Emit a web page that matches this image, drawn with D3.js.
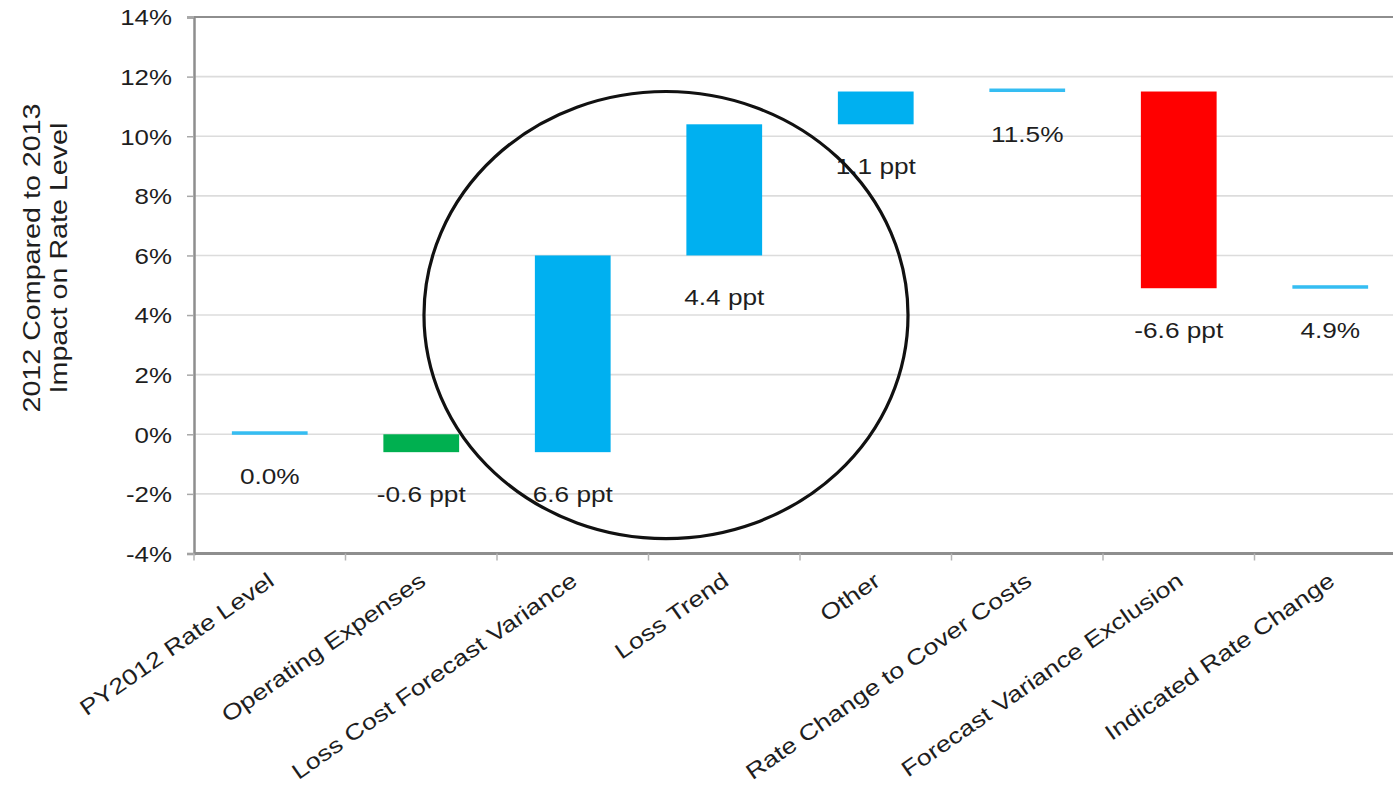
<!DOCTYPE html>
<html>
<head>
<meta charset="utf-8">
<script src="https://cdn.jsdelivr.net/npm/d3@7"></script>
<style>
  html, body { margin: 0; padding: 0; background: #fff; overflow: hidden; }
  text { font-family: "Liberation Sans", Arial, sans-serif; fill: #1e1e1e; }
</style>
</head>
<body>
<svg id="chart" width="1393" height="791"></svg>
<script>
// Waterfall: rate-level walk from PY2012 to the indicated change
const categories = [
  "PY2012 Rate Level",
  "Operating Expenses",
  "Loss Cost Forecast Variance",
  "Loss Trend",
  "Other",
  "Rate Change to Cover Costs",
  "Forecast Variance Exclusion",
  "Indicated Rate Change"
];
// Totals are levels (%), the rest are changes in percentage points
const values  = [0.0, -0.6, 6.6, 4.4, 1.1, 11.5, -6.6, 4.9];
const isTotal = [true, false, false, false, false, true, false, true];
const barKind = ["total", "saving", "driver", "driver", "driver", "total", "exclusion", "total"];
const yTicks  = [-4, -2, 0, 2, 4, 6, 8, 10, 12, 14];

const kindColor = { total: "#35bdf2", saving: "#00b050", driver: "#00b0f0", exclusion: "#ff0000" };

// Wide text rendering: glyphs stretched along the baseline
const WIDE = 1.22;

// Running level -> start/end of every step
let level = 0;
const steps = categories.map((c, i) => {
  const v = values[i];
  let start, end;
  if (isTotal[i]) { start = v; end = v; level = v; }
  else { start = level; end = level + v; level = end; }
  const label = isTotal[i] ? v.toFixed(1) + "%" : v.toFixed(1) + " ppt";
  return { cat: c, value: v, total: isTotal[i], kind: barKind[i], start, end, label };
});

const svg = d3.select("#chart");
const plotLeft = 194, plotTop = 17, plotBottom = 553.5, step = 151.5;
const plotRight = plotLeft + step * categories.length;

const x = d3.scaleBand().domain(categories).range([plotLeft, plotRight])
  .paddingInner(0.5).paddingOuter(0.25);
const y = d3.scaleLinear().domain([-4, 14]).range([plotBottom, plotTop]);

// Horizontal gridlines
svg.append("g").selectAll("line")
  .data(yTicks.filter(t => t > -4 && t < 14))
  .join("line")
  .attr("x1", plotLeft).attr("x2", plotRight)
  .attr("y1", d => y(d)).attr("y2", d => y(d))
  .attr("stroke", "#dcdcdc").attr("stroke-width", 1.6);

// Plot-area top border
svg.append("line")
  .attr("x1", plotLeft).attr("x2", plotRight).attr("y1", y(14)).attr("y2", y(14))
  .attr("stroke", "#8e8e8e").attr("stroke-width", 2);

// Y axis
const yAxis = svg.append("g").attr("transform", `translate(${plotLeft},0)`)
  .call(d3.axisLeft(y).tickValues(yTicks).tickSize(7).tickPadding(0).tickFormat(d => d + "%"));
yAxis.select(".domain").attr("stroke", "#8e8e8e").attr("stroke-width", 2.5);
yAxis.selectAll(".tick line").attr("stroke", "#a8a8a8").attr("stroke-width", 1.5);
yAxis.selectAll(".tick text")
  .attr("x", 0).attr("dy", "0.35em")
  .attr("transform", "translate(-22,0) scale(1.15,1)")
  .style("font-size", "22.5px").attr("fill", "#1e1e1e");

// X axis baseline and category ticks at band boundaries
svg.append("line")
  .attr("x1", plotLeft).attr("x2", plotRight).attr("y1", plotBottom).attr("y2", plotBottom)
  .attr("stroke", "#8e8e8e").attr("stroke-width", 3);
svg.append("g").selectAll("line")
  .data(categories)
  .join("line")
  .attr("x1", d => x(d) - (step - x.bandwidth()) / 2)
  .attr("x2", d => x(d) - (step - x.bandwidth()) / 2)
  .attr("y1", plotBottom).attr("y2", plotBottom + 7)
  .attr("stroke", "#b4b4b4").attr("stroke-width", 1.5);

// Category labels, rotated
svg.append("g").selectAll("text")
  .data(categories)
  .join("text")
  .attr("transform", d => `translate(${x(d) + x.bandwidth() / 2 + 6},584) rotate(-35) scale(${WIDE},1)`)
  .attr("text-anchor", "end")
  .style("font-size", "22px")
  .text(d => d);

// Waterfall bars (totals drawn as thin level markers)
svg.append("g").selectAll("rect")
  .data(steps)
  .join("rect")
  .attr("x", d => x(d.cat))
  .attr("width", x.bandwidth())
  .attr("y", d => d.total ? y(d.end) - 3 : y(Math.max(d.start, d.end)))
  .attr("height", d => d.total ? 3.5 : Math.abs(y(d.start) - y(d.end)))
  .attr("fill", d => kindColor[d.kind]);

// Value labels below each step
svg.append("g").selectAll("text")
  .data(steps)
  .join("text")
  .attr("transform", d => `translate(${x(d.cat) + x.bandwidth() / 2},${y(Math.min(d.start, d.end)) + 50}) scale(${WIDE},1)`)
  .attr("text-anchor", "middle")
  .style("font-size", "21.5px")
  .text(d => d.label);

// Highlight ring round the loss-cost drivers
const ring = { fromStep: 1.518, toStep: 4.713, low: -3.5, high: 11.5 };
svg.append("ellipse")
  .attr("cx", plotLeft + step * (ring.fromStep + ring.toStep) / 2)
  .attr("cy", (y(ring.low) + y(ring.high)) / 2)
  .attr("rx", step * (ring.toStep - ring.fromStep) / 2)
  .attr("ry", (y(ring.low) - y(ring.high)) / 2)
  .attr("fill", "none").attr("stroke", "#111").attr("stroke-width", 3.2);

// Y axis title
const yTitle = ["2012 Compared to 2013", "Impact on Rate Level"];
svg.append("g").selectAll("text")
  .data(yTitle)
  .join("text")
  .attr("transform", (d, i) => `translate(${i === 0 ? 39.5 : 67},258) rotate(-90) scale(${WIDE},1)`)
  .attr("text-anchor", "middle")
  .style("font-size", "23.5px")
  .text(d => d);
</script>
</body>
</html>
